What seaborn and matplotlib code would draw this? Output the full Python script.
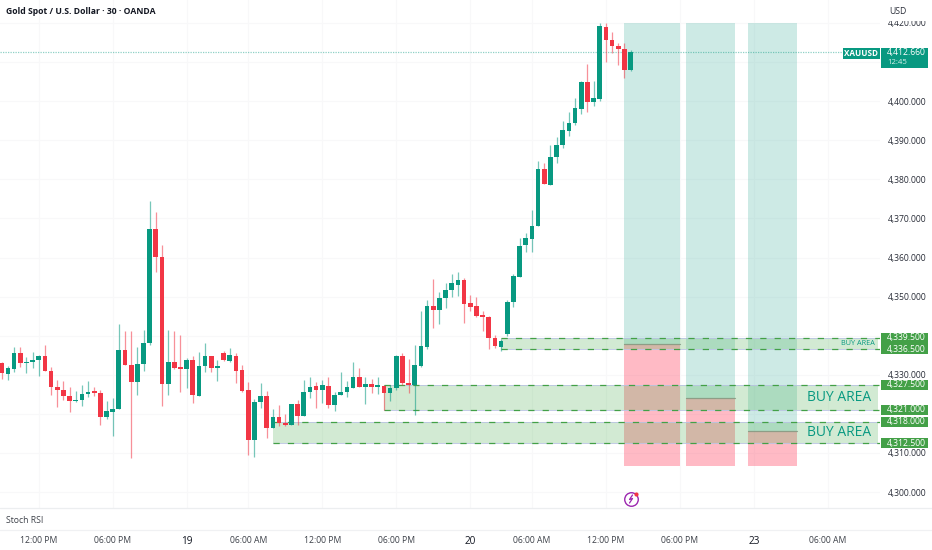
import numpy as np
import pandas as pd
import matplotlib
matplotlib.use("Agg")
import matplotlib.pyplot as plt
from matplotlib.patches import Rectangle
import seaborn as sns

# 30 min candles
opens = [4333.1,4330.2,4331.4,4335.7,4332.9,4333.4,4333.8,4334.8,4331.1,4327.0,
         4326.2,4324.6,4323.2,4323.5,4325.2,4325.6,4325.4,4319.2,4320.6,4321.3,
         4336.3,4332.6,4328.2,4332.7,4338.1,4367.2,4360.2,4327.7,4333.4,4332.1,
         4331.5,4333.8,4324.7,4332.3,4334.8,4331.7,4335.7,4333.6,4334.8,4331.3,
         4326.1,4313.2,4323.0,4324.5,4316.3,4319.1,4317.8,4317.1,4322.6,4319.5,
         4325.7,4327.1,4326.1,4327.2,4322.3,4324.8,4325.6,4326.7,4329.4,4327.0,
         4327.6,4326.9,4327.1,4325.4,4326.5,4334.8,4328.0,4327.3,4332.3,4337.2,
         4347.7,4346.5,4349.7,4351.6,4353.1,4354.3,4348.4,4347.5,4345.1,4344.9,
         4339.5,4337.2,4340.4,4348.5,4355.0,4363.2,4364.8,4368.0,4382.7,4378.6,
         4385.7,4388.8,4392.4,4394.3,4398.1,4404.8,4399.9,4400.6,4419.1,4415.6,
         4414.1,4413.3,4408.0]
highs = [4333.4,4332.3,4337.2,4337.0,4334.6,4335.8,4335.1,4337.5,4332.1,4328.8,
         4328.3,4326.8,4325.9,4327.4,4328.5,4327.0,4326.1,4323.4,4324.1,4343.0,
         4341.3,4341.1,4337.0,4341.5,4374.5,4371.7,4363.2,4341.5,4341.2,4340.2,
         4334.2,4334.8,4335.8,4338.2,4334.8,4333.8,4336.2,4336.8,4335.5,4332.5,
         4328.2,4323.7,4327.8,4325.9,4321.3,4322.3,4319.9,4322.6,4323.5,4328.6,
         4329.4,4328.1,4328.7,4329.5,4325.7,4330.7,4328.3,4333.4,4331.7,4329.4,
         4328.9,4329.4,4327.4,4327.4,4335.1,4335.5,4334.0,4337.6,4346.4,4349.1,
         4354.4,4351.1,4353.6,4355.7,4356.2,4354.7,4350.4,4349.8,4346.2,4345.0,
         4340.2,4339.1,4349.1,4355.8,4364.9,4366.4,4372.2,4384.8,4384.1,4388.8,
         4390.8,4394.8,4397.3,4400.9,4405.2,4409.5,4405.2,4419.9,4420.1,4417.6,
         4414.8,4415.0,4413.1]
lows = [4328.9,4328.7,4330.8,4332.1,4330.5,4331.8,4329.8,4331.1,4324.8,4321.7,
        4323.6,4320.4,4323.0,4321.9,4324.2,4324.6,4317.1,4318.6,4314.4,4321.3,
        4332.5,4308.6,4324.9,4331.1,4337.6,4356.4,4322.0,4324.9,4331.4,4325.7,
        4326.5,4322.7,4324.6,4330.8,4330.7,4328.4,4333.6,4333.4,4327.8,4325.7,
        4309.5,4309.1,4321.6,4313.9,4316.3,4316.9,4316.9,4317.1,4317.1,4319.5,
        4324.0,4321.4,4322.9,4321.4,4320.8,4324.8,4324.4,4326.7,4327.0,4322.5,
        4325.4,4325.0,4321.0,4323.2,4326.1,4327.4,4325.3,4319.7,4332.1,4336.5,
        4341.9,4343.0,4347.0,4349.8,4350.2,4343.2,4346.2,4344.9,4341.2,4336.5,
        4336.8,4336.2,4339.9,4347.3,4355.0,4361.5,4361.3,4368.0,4378.7,4378.6,
        4384.3,4387.9,4391.2,4393.9,4396.7,4397.3,4398.8,4400.0,4410.1,4412.2,
        4409.3,4406.0,4407.8]
closes = [4330.4,4331.7,4335.7,4332.9,4333.4,4333.8,4334.8,4331.1,4326.9,4326.2,
          4324.5,4323.2,4323.6,4325.2,4325.6,4325.4,4319.2,4320.7,4321.3,4336.3,
          4332.5,4328.2,4332.8,4338.1,4367.2,4360.2,4327.7,4333.4,4331.8,4331.5,
          4333.8,4324.8,4332.3,4334.8,4331.7,4332.3,4333.8,4335.0,4331.1,4325.9,
          4313.2,4323.0,4324.5,4316.5,4319.1,4317.7,4317.1,4322.6,4319.5,4325.7,
          4326.9,4326.1,4327.4,4322.3,4324.8,4325.7,4326.8,4329.4,4327.0,4327.6,
          4326.8,4327.1,4325.4,4326.5,4334.7,4327.8,4327.5,4332.6,4337.4,4347.7,
          4346.5,4349.7,4351.6,4353.4,4354.3,4348.2,4347.4,4345.0,4344.9,4339.5,
          4337.4,4338.7,4348.6,4355.3,4363.0,4364.9,4368.1,4382.7,4378.7,4385.8,
          4388.8,4392.5,4394.4,4398.2,4404.9,4399.9,4400.7,4419.2,4415.6,4414.1,
          4413.3,4408.0,4412.66]

price_ticks = [4300, 4310, 4320, 4330, 4340, 4350, 4360, 4370, 4380, 4390, 4400, 4410, 4420]
# these sit under the price tags in the original
hidden_ticks = [4320, 4340, 4410]
time_pos = [6, 18, 30, 40, 52, 64, 76, 86, 98, 110, 122, 134]
time_labels = ["12:00 PM", "06:00 PM", "19", "06:00 AM", "12:00 PM", "06:00 PM", "20",
               "06:00 AM", "12:00 PM", "06:00 PM", "23", "06:00 AM"]

# buy zones: start bar, low, high
zone_start = [81, 62, 44]
zone_low = [4336.5, 4321.0, 4312.5]
zone_high = [4339.5, 4327.5, 4318.0]
zone_end = 142.1
zone_text_size = [5.2, 10.0, 10.0]
zone_text_right = [141.7, 141.1, 141.1]

# long position tools
pos_start = [101, 111, 121]
pos_end = [110, 119, 129]
pos_entry = [4337.9, 4324.1, 4315.5]
pos_top = 4420.0
pos_stop = 4306.7

last_price = 4412.66
GREEN = "#089981"
RED = "#F23645"
ZONE = "#43a047"

sns.set_theme(style="white", rc={"axes.edgecolor": "#ffffff"})
plt.rcParams["font.family"] = ["Open Sans", "DejaVu Sans"]

df = pd.DataFrame({"bar": np.arange(len(opens)), "open": opens, "high": highs, "low": lows, "close": closes})
df["bottom"] = df[["open", "close"]].min(axis=1)
df["body"] = (df["close"] - df["open"]).abs().clip(lower=0.4)
df["up"] = df["close"] >= df["open"]

fig = plt.figure(figsize=(9.32, 5.5), dpi=100)
ax = fig.add_axes([0, 42 / 550, 880 / 932, 508 / 550])

# position tools
for x0, x1, entry in zip(pos_start, pos_end, pos_entry):
    ax.add_patch(Rectangle((x0, entry), x1 - x0, pos_top - entry, color=GREEN, alpha=0.2, lw=0, zorder=1.2))
    ax.add_patch(Rectangle((x0, pos_stop), x1 - x0, entry - pos_stop, color="#ff5470", alpha=0.4, lw=0, zorder=1.2))
    ax.plot([x0, x1], [entry, entry], color="#8f8f8f", lw=0.9, alpha=0.8, zorder=1.3)

# buy zones
for x0, lo, hi, size, xr in zip(zone_start, zone_low, zone_high, zone_text_size, zone_text_right):
    ax.add_patch(Rectangle((x0, lo), zone_end - x0, hi - lo, color="#4caf50", alpha=0.25, lw=0, zorder=1.5))
    for yy in (lo, hi):
        ax.plot([x0, zone_end], [yy, yy], color="#b9c3e2", lw=0.6, zorder=1.55)
        ax.plot([x0, 142.46], [yy, yy], color=ZONE, lw=0.9, dashes=(5, 6.5), zorder=1.6)
    ax.text(xr, (lo + hi) / 2, "BUY AREA", color=GREEN, fontsize=size, ha="right", va="center", zorder=6)

# last price line
ax.axhline(last_price, color=GREEN, lw=0.9, ls=(0, (1, 1)), alpha=0.45, zorder=1.7)

# candles
ax.vlines(df["bar"], df["low"], df["high"], colors=[GREEN if u else RED for u in df["up"]],
          lw=0.9, alpha=0.55, zorder=2.5)
for up, color in ((True, GREEN), (False, RED)):
    part = df[df["up"] == up]
    sns.barplot(data=part, x="bar", y="body", bottom=part["bottom"].values, native_scale=True,
                orient="x", color=color, saturation=1, errorbar=None, width=0.76, linewidth=0,
                ax=ax, zorder=3)

ax.set_xlabel("")
ax.set_ylabel("")
ax.set_xlim(-0.276, 142.46)
ax.set_ylim(4295.93, 4425.88)
ax.set_yticks(price_ticks)
ax.set_yticklabels(["" if p in hidden_ticks else f"{p:,.3f}" for p in price_ticks])
ax.set_xticks(time_pos)
ax.set_xticklabels(time_labels)
ax.grid(True, color="#f8f8f9", lw=0.8)
ax.set_axisbelow(True)
ax.yaxis.tick_right()
ax.tick_params(axis="y", length=0, pad=5.6, labelsize=6.2, labelcolor="#2a2e39")
ax.tick_params(axis="x", length=0, pad=20.5, labelsize=6.2, labelcolor="#3c4048")
for lab in ax.get_xticklabels():
    if lab.get_text() in ("19", "20", "23"):
        lab.set_fontsize(7.2)
        lab.set_color("#131722")
for s in ax.spines.values():
    s.set_visible(False)

# chrome drawn in pixels
ui = fig.add_axes([0, 0, 1, 1], zorder=10)
ui.set_xlim(0, 932)
ui.set_ylim(550, 0)
ui.axis("off")
ui.patch.set_alpha(0)

ui.text(6, 11, "Gold Spot / U.S. Dollar · 30 · OANDA", fontsize=6.2, fontweight="bold",
        color="#131722", va="center")
ui.text(6, 520.5, "Stoch RSI", fontsize=6.2, color="#3c4048", va="center")
ui.plot([0, 932], [508, 508], color="#eceef0", lw=0.9)
ui.plot([0, 932], [530, 530], color="#f0f1f3", lw=0.9)

# USD box hides the top of the 4,420 label
ui.add_patch(Rectangle((883, 0), 45, 21, color="white", lw=0))
ui.text(889, 11, "USD", fontsize=6.2, color="#2a2e39", va="center")

# last price labels
ui.add_patch(Rectangle((843, 47.5), 37, 11, color=GREEN, lw=0))
ui.text(861.5, 53, "XAUUSD", color="white", fontsize=5.9, fontweight="bold", ha="center", va="center")
ui.add_patch(Rectangle((880.7, 47.5), 47.3, 20.5, color=GREEN, lw=0))
ui.text(887, 53, f"{last_price:,.3f}", color="white", fontsize=6.2, va="center")
ui.text(887, 62.5, "12:45", color="#d5f0ea", fontsize=5.6, va="center")

# zone price labels, placed from the price scale
to_px = lambda p: (4425.88 - p) / (4425.88 - 4295.93) * 508
ui.add_patch(Rectangle((880.7, to_px(zone_high[0]) - 5), 47.3, to_px(zone_low[0]) - to_px(zone_high[0]) + 10,
                       color=ZONE, lw=0))
for p in zone_low + zone_high:
    ui.add_patch(Rectangle((880.7, to_px(p) - 5), 47.3, 10, color=ZONE, lw=0))
for p in zone_low + zone_high:
    ui.text(887, to_px(p), f"{p:,.3f}", color="white", fontsize=6.2, va="center")

# lightning badge
ui.scatter([631], [499], s=95, facecolors="white", edgecolors="#9c27b0", linewidths=1, zorder=3)
ui.plot([632.5, 629.5, 632.5, 629.5], [495, 499.5, 498.5, 503], color="#9c27b0", lw=0.9, zorder=4)
ui.scatter([636], [494], s=9, color="#f23645", linewidths=0, zorder=5)

fig.savefig("out.png", dpi=100, facecolor="white")
